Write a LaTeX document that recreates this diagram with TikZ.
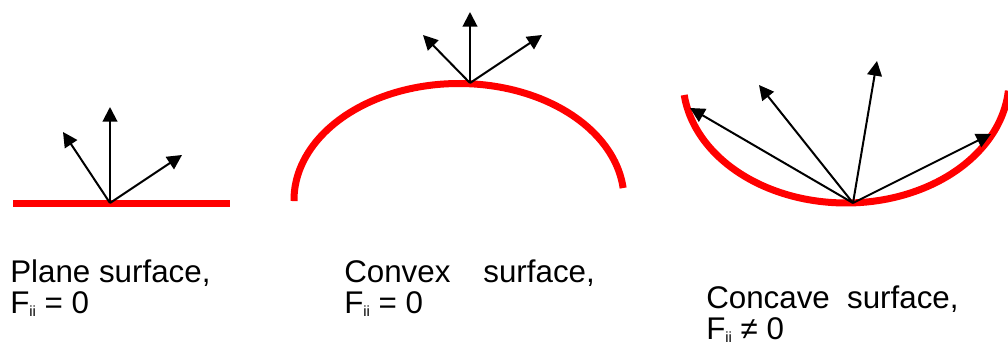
\documentclass[tikz,border=0pt]{standalone}
\usepackage{fontspec}
\setmainfont{Liberation Sans}
\usetikzlibrary{arrows.meta}
\newcommand{\subii}{\raisebox{-2.2pt}{\fontsize{11}{11}\selectfont ii}}
\begin{document}
\begin{tikzpicture}[x=0.75pt,y=-0.75pt,
  surface/.style={draw=red,line width=5.25pt},
  ray/.style={draw=black,line width=1.5pt,-{Triangle[length=11pt,width=11pt]}},
  lbl/.style={anchor=base west,inner sep=0pt,font=\fontsize{23.5}{22.5}\selectfont}]
\useasboundingbox[fill=white] (0,0) rectangle (1008,345);
% plane
\coordinate (pl) at (13,203.5);
\coordinate (pr) at (230,203.5);
\draw[surface] (pl) -- (pr);
\coordinate (o1) at (110,203);
\coordinate (t1a) at (63,132);
\coordinate (t1b) at (110,107);
\coordinate (t1c) at (182,155);
\draw[ray] (o1) -- (t1a);
\draw[ray] (o1) -- (t1b);
\draw[ray] (o1) -- (t1c);
% convex
\draw[surface] plot[smooth,domain=180.5:5.9,samples=80] ({459+165*cos(\x)},{200-116.5*sin(\x)});
\coordinate (o2) at (470,83);
\coordinate (t2a) at (423,35);
\coordinate (t2b) at (470,12);
\coordinate (t2c) at (542,35);
\draw[ray] (o2) -- (t2a);
\draw[ray] (o2) -- (t2b);
\draw[ray] (o2) -- (t2c);
% concave
\draw[surface] plot[smooth,domain=173:5,samples=80] ({846+163*cos(\x)},{80+123*sin(\x)});
\coordinate (o3) at (853,203);
\coordinate (t3a) at (690,108);
\coordinate (t3b) at (759,85);
\coordinate (t3c) at (877,61);
\coordinate (t3d) at (991,134);
\draw[ray] (o3) -- (t3a);
\draw[ray] (o3) -- (t3b);
\draw[ray] (o3) -- (t3c);
\draw[ray] (o3) -- (t3d);
% labels
\node[lbl] (L1) at (10,283) {\begin{tabular}[t]{@{}l@{}}Plane surface,\\F\subii{} = 0\end{tabular}};
\node[lbl] (L2) at (344,283) {\begin{tabular}[t]{@{}l@{}}Convex\hspace{1.05em}surface,\\F\subii{} = 0\end{tabular}};
\node[lbl] (L3) at (706,309) {\begin{tabular}[t]{@{}l@{}}Concave\hspace{0.55em}surface,\\F\subii{} ≠ 0\end{tabular}};
\end{tikzpicture}
\end{document}
